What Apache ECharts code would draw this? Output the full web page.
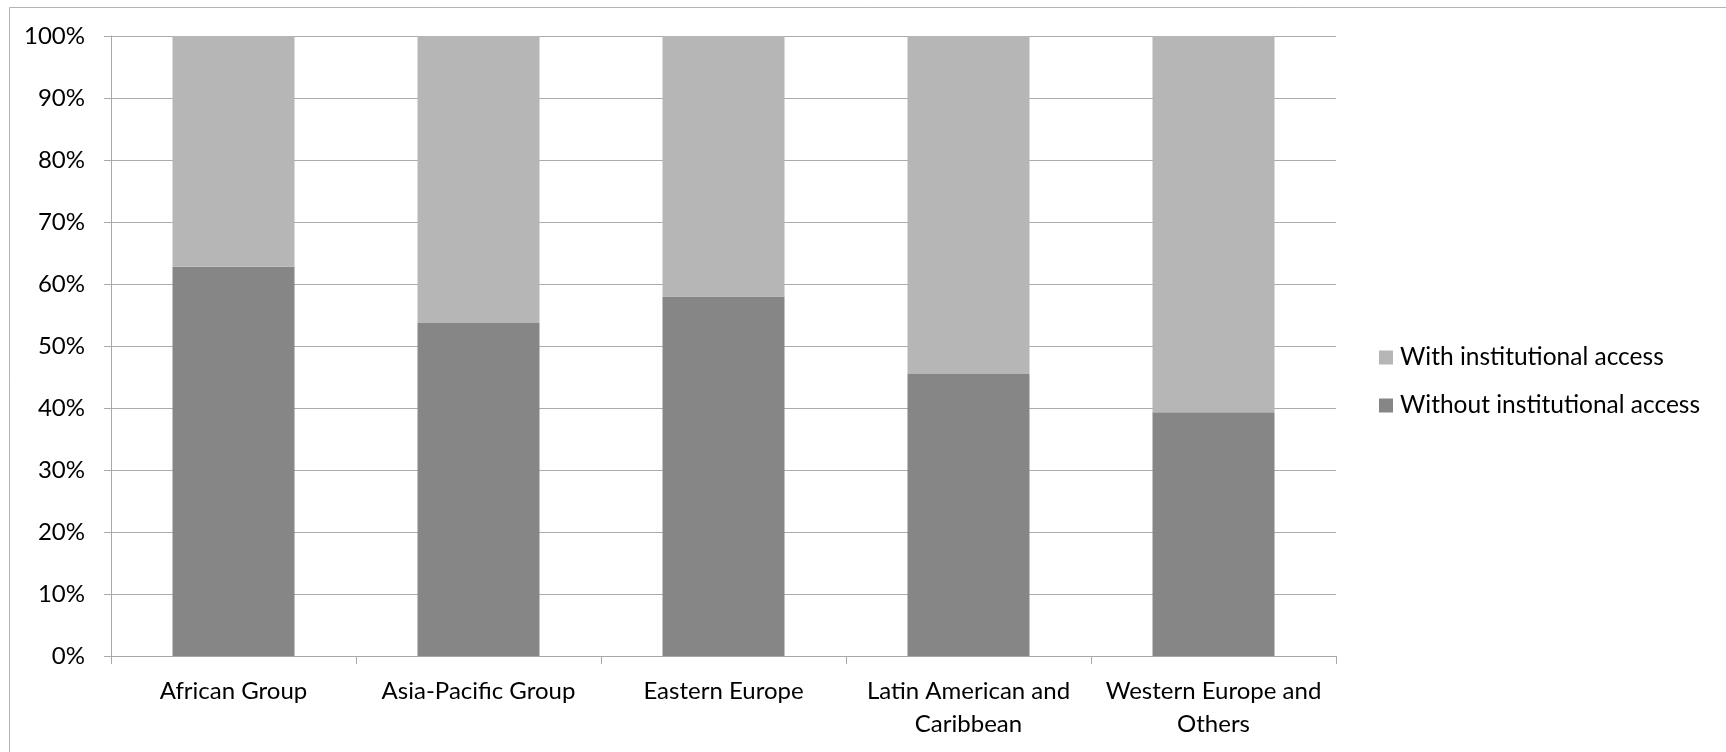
<!DOCTYPE html>
<html>
<head>
<meta charset="utf-8">
<script src="https://cdn.jsdelivr.net/npm/echarts@6/dist/echarts.min.js"></script>
<style>
  html, body { margin: 0; padding: 0; background: #ffffff; }
  #chart { width: 1726px; height: 752px; }
</style>
</head>
<body>
<div id="chart"></div>
<script>
// Regional groups shown along the category axis
const categories = [
  'African Group',
  'Asia-Pacific Group',
  'Eastern Europe',
  'Latin American and\nCaribbean',
  'Western Europe and\nOthers'
];

// Share of respondents (%) per group
const withoutAccess = [62.8, 53.7, 58.0, 45.5, 39.3];
const withAccess = [37.2, 46.3, 42.0, 54.5, 60.7];

const seriesNames = ['Without institutional access', 'With institutional access'];
const yTicks = [0, 10, 20, 30, 40, 50, 60, 70, 80, 90, 100];

const FONT = 'Lato, "Open Sans", sans-serif';
const chart = echarts.init(document.getElementById('chart'), null, { renderer: 'canvas' });

chart.setOption({
  animation: false,
  backgroundColor: '#ffffff',
  textStyle: { fontFamily: FONT },
  graphic: [{
    type: 'rect',
    shape: { x: 9.5, y: 7.5, width: 1800, height: 800 },
    style: { fill: 'none', stroke: '#b4b4b4', lineWidth: 1 },
    silent: true
  }],
  grid: { left: 111, right: 390, top: 36, bottom: 96, containLabel: false },
  legend: {
    orient: 'vertical',
    left: 1379,
    top: 345,
    padding: 0,
    icon: 'rect',
    itemWidth: 14,
    itemHeight: 14,
    itemGap: 23,
    data: [seriesNames[1], seriesNames[0]],
    textStyle: { fontFamily: FONT, fontSize: 24.5, color: '#000000', lineHeight: 24, padding: [0, 0, 0, 2] }
  },
  xAxis: {
    type: 'category',
    data: categories,
    axisLine: { lineStyle: { color: '#a8a8a8', width: 1 } },
    axisTick: { show: true, alignWithLabel: false, length: 8, lineStyle: { color: '#a8a8a8' } },
    axisLabel: {
      interval: 0,
      margin: 19,
      fontFamily: FONT,
      fontSize: 24,
      lineHeight: 33,
      color: '#000000'
    }
  },
  yAxis: {
    type: 'value',
    min: yTicks[0],
    max: yTicks[yTicks.length - 1],
    interval: 10,
    axisLine: { show: true, lineStyle: { color: '#a8a8a8', width: 1 } },
    axisTick: { show: true, inside: false, length: 7, lineStyle: { color: '#a8a8a8' } },
    splitLine: { show: true, lineStyle: { color: '#ababab', width: 1 } },
    axisLabel: {
      margin: 26,
      fontFamily: FONT,
      fontSize: 24,
      color: '#000000',
      formatter: v => v + '%'
    }
  },
  series: [
    {
      name: seriesNames[0],
      type: 'bar',
      stack: 'share',
      barWidth: 122,
      data: withoutAccess,
      itemStyle: { color: '#868686' }
    },
    {
      name: seriesNames[1],
      type: 'bar',
      stack: 'share',
      barWidth: 122,
      data: withAccess,
      itemStyle: { color: '#b6b6b6' }
    }
  ]
});
</script>
</body>
</html>
